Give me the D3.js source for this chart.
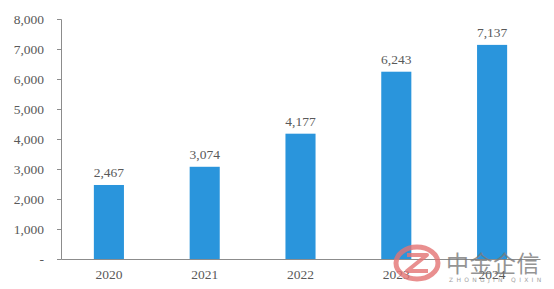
<!DOCTYPE html>
<html>
<head>
<meta charset="utf-8">
<script src="https://cdn.jsdelivr.net/npm/d3@7"></script>
<style>
  body { margin: 0; background: #fff; }
  text { font-family: "Liberation Serif", "Times New Roman", serif; fill: #595959; }
</style>
</head>
<body>
<svg id="chart" width="554" height="289"></svg>
<script>
// data
var years = ["2020", "2021", "2022", "2023", "2024"]
var values = [2467, 3074, 4177, 6243, 7137]
var yTicks = [0, 1000, 2000, 3000, 4000, 5000, 6000, 7000, 8000]

var svg = d3.select("#chart")

var mLeft = 61, mRight = 540, mTop = 19, mBottom = 259

var x = d3.scaleBand()
    .domain(years)
    .range([mLeft, mRight])
    .paddingInner(0.686)
    .paddingOuter(0.343)

var y = d3.scaleLinear()
    .domain([0, 8000])
    .range([mBottom, mTop])

var fmt = d3.format(",")

// y axis
var yAxis = d3.axisLeft(y)
    .tickValues(yTicks)
    .tickSize(4)
    .tickPadding(13)
    .tickFormat(d => d === 0 ? "-" : fmt(d))

svg.append("g")
    .attr("transform", `translate(${mLeft},0)`)
    .call(yAxis)
    .call(g => g.select(".domain").attr("stroke", "#8c8c8c"))
    .call(g => g.selectAll(".tick line").attr("stroke", "#8c8c8c"))
    .call(g => g.selectAll(".tick text")
        .attr("font-size", 13.5)
        .attr("fill", "#595959"))

// bars
svg.append("g").selectAll("rect")
    .data(values)
    .join("rect")
    .attr("x", (d, i) => x(years[i]))
    .attr("y", d => y(d))
    .attr("width", x.bandwidth())
    .attr("height", d => mBottom - y(d))
    .attr("fill", "#2a95dc")

// value labels
svg.append("g").selectAll("text")
    .data(values)
    .join("text")
    .attr("x", (d, i) => x(years[i]) + x.bandwidth() / 2)
    .attr("y", d => y(d) - 8)
    .attr("text-anchor", "middle")
    .attr("font-size", 13.5)
    .text(d => fmt(d))

// x axis
var xAxis = d3.axisBottom(x).tickSize(0).tickPadding(10)

svg.append("g")
    .attr("transform", `translate(0,${mBottom})`)
    .call(xAxis)
    .call(g => g.select(".domain").attr("stroke", "#8c8c8c"))
    .call(g => g.selectAll(".tick text")
        .attr("font-size", 13.5)
        .attr("fill", "#595959"))

// watermark
var wm = svg.append("g").attr("opacity", 0.8)
wm.append("ellipse")
    .attr("cx", 417).attr("cy", 263).attr("rx", 21).attr("ry", 16)
    .attr("fill", "none").attr("stroke", "#e47474").attr("stroke-width", 5)
wm.append("path")
    .attr("d", "M407,255 L427,255 L407,271 L428,271")
    .attr("fill", "none").attr("stroke", "#e47474").attr("stroke-width", 4)
    .attr("stroke-linejoin", "round")
wm.append("text")
    .attr("x", 446).attr("y", 272)
    .attr("font-size", 23)
    .attr("letter-spacing", 0.5)
    .style("font-family", "'Noto Sans CJK SC'")
    .style("fill", "#7a7a7a")
    .text("中金企信")
wm.append("text")
    .attr("x", 449).attr("y", 282)
    .attr("font-size", 6)
    .attr("letter-spacing", 3.3)
    .style("font-family", "'DejaVu Sans'")
    .style("fill", "#8a8a8a")
    .text("ZHONGJIN QIXIN")
</script>
</body>
</html>
